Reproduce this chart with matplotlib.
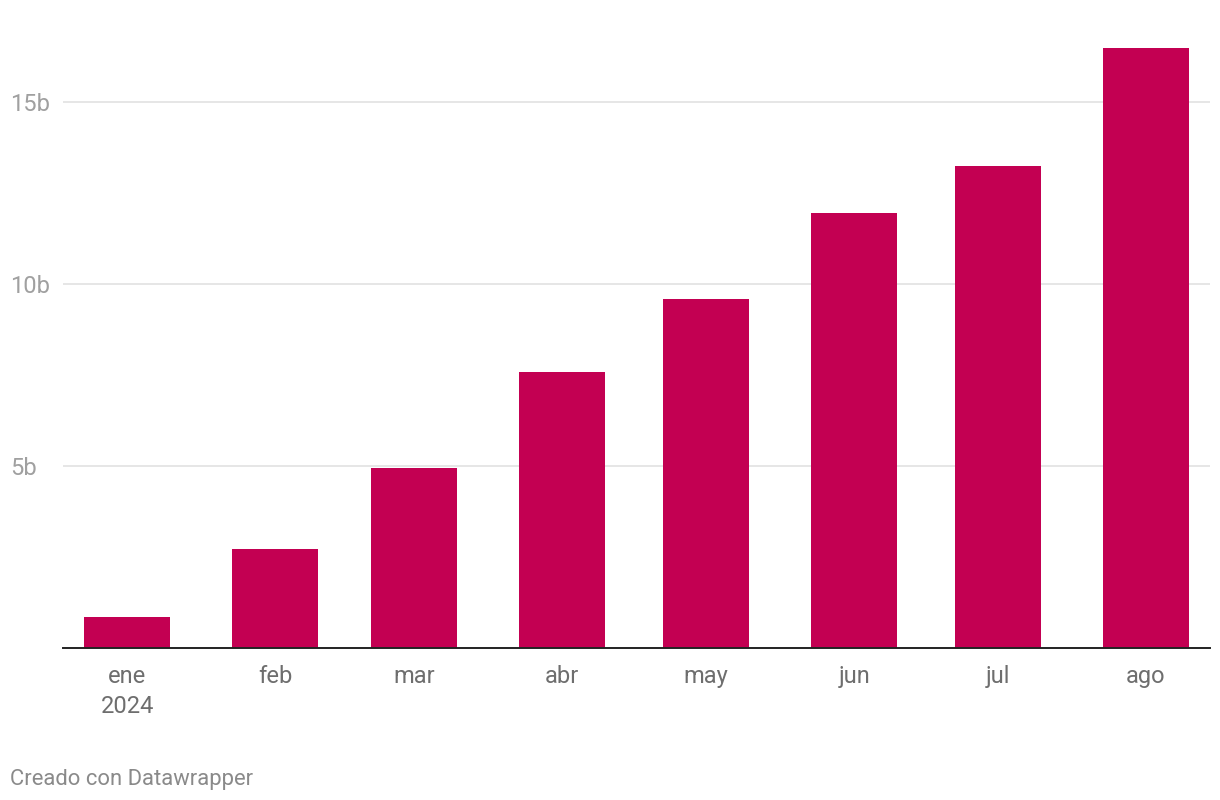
import matplotlib
matplotlib.use("Agg")
import matplotlib.pyplot as plt
import matplotlib.dates as mdates
import datetime as dt

months = ["2024-01-01", "2024-02-01", "2024-03-01", "2024-04-01",
          "2024-05-01", "2024-06-01", "2024-07-01", "2024-08-01"]
month_labels = ["ene\n2024", "feb", "mar", "abr", "may", "jun", "jul", "ago"]
values = [0.85, 2.72, 4.95, 7.58, 9.59, 11.95, 13.24, 16.48]
y_ticks = [5, 10, 15]
y_tick_labels = ["5b", "10b", "15b"]

plt.rcParams['font.family'] = ['Roboto', 'DejaVu Sans']

W, H = 1220, 800
fig = plt.figure(figsize=(W / 100, H / 100), dpi=100)
left, right, bottom, top = 63, 1210, 648, 40
ax = fig.add_axes([left / W, 1 - bottom / H, (right - left) / W, (bottom - top) / H])

x = [mdates.date2num(dt.datetime.strptime(m, "%Y-%m-%d")) for m in months]
ax.bar(x, values, width=18, color="#C30052", zorder=3)

ax.set_xlim(x[0] - 13.4, x[-1] + 13.4)
ax.set_ylim(0, (bottom - top) / 36.4)

ax.set_yticks(y_ticks)
ax.set_yticklabels(y_tick_labels)
ax.tick_params(axis='y', length=0, pad=38, labelsize=17, labelcolor="#a0a0a0")
for lab in ax.get_yticklabels():
    lab.set_horizontalalignment('left')
ax.grid(axis='y', color="#e2e2e2", linewidth=1.2, zorder=0)

ax.set_xticks(x)
ax.set_xticklabels(month_labels, linespacing=1.4)
ax.tick_params(axis='x', length=0, pad=12, labelsize=17, labelcolor="#6e6e6e")

for s in ["left", "right", "top"]:
    ax.spines[s].set_visible(False)
ax.spines["bottom"].set_color("#222222")
ax.spines["bottom"].set_linewidth(1.4)
ax.spines["bottom"].set_zorder(4)

fig.text(10 / W, 1 - 779 / H, "Creado con Datawrapper", fontsize=15.8,
         color="#8a8a8a", ha='left', va='center')

fig.savefig("out.png", dpi=100, facecolor="white")
